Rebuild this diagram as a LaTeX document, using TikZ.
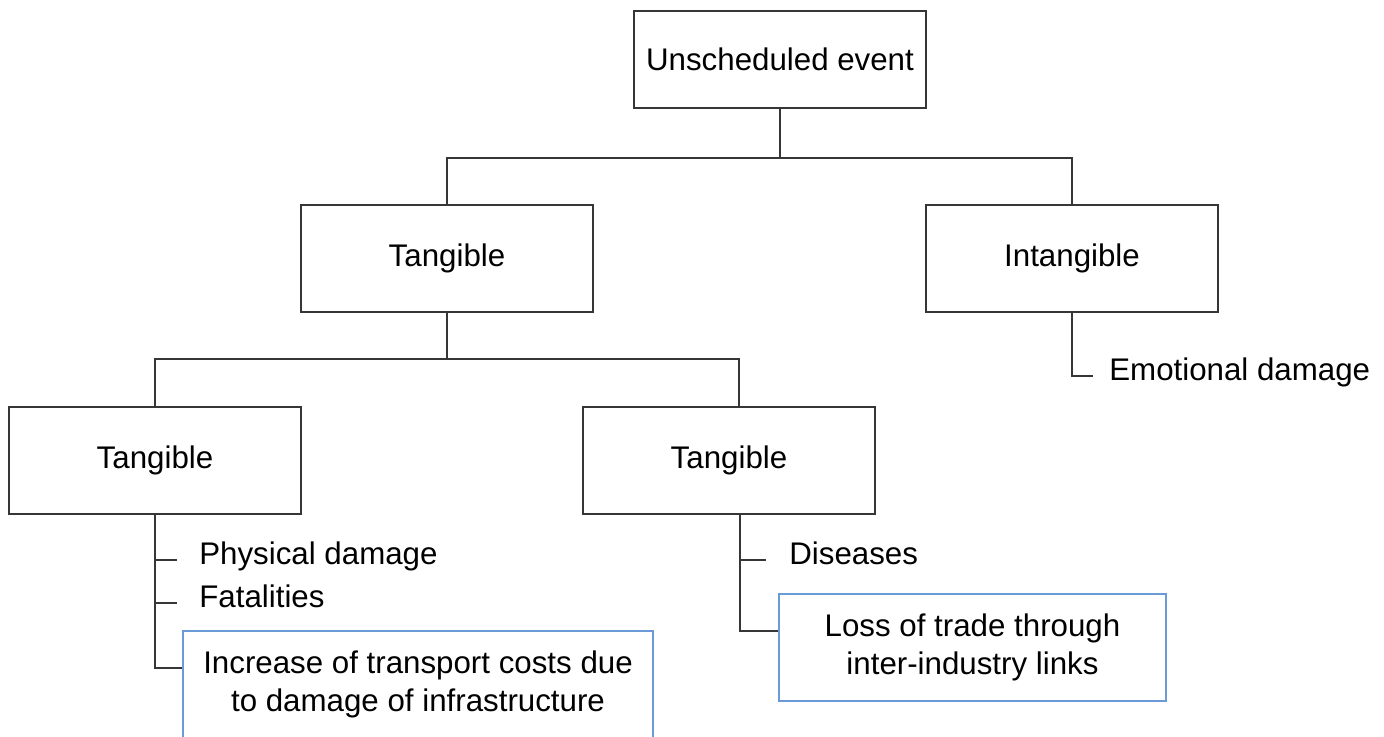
\documentclass[tikz,border=0pt]{standalone}
\usepackage{fontspec}
\setmainfont{Liberation Sans}
\usetikzlibrary{positioning, calc}
\definecolor{linecol}{HTML}{363636}
\definecolor{bluecol}{HTML}{6A9BD8}

\begin{document}
\begin{tikzpicture}[
        %% Grid: coordinates in cm, origin at the top left corner
        box/.style={rectangle, draw=linecol, line width=1.1pt, fill=white, minimum width=5.84cm, minimum height=2.14cm, align=center, font=\fontsize{17.8}{21.6}\selectfont},
        topbox/.style={box, minimum height=1.94cm},
        bluebox/.style={box, draw=bluecol, minimum height=2.14cm},
        line/.style={color=linecol, line width=1.1pt},
        item/.style={anchor=west, inner sep=0pt, text height=0.72em, text depth=0.21em, font=\fontsize{17.8}{21.6}\selectfont}
    ]
    \useasboundingbox (0,0) rectangle (27.68,-14.72);

    %% --- Root (row y=-1.19) ---
    \node[topbox] (event) at (15.60, -1.19) {Unscheduled event};

    %% --- Second level (row y=-5.17) ---
    \node[box] (tang)   at (8.94,  -5.17) {Tangible};
    \node[box] (intang) at (21.44, -5.17) {Intangible};

    %% --- Third level (row y=-9.21) ---
    \node[box] (tangA) at (3.10,  -9.21) {Tangible};
    \node[box] (tangB) at (14.58, -9.21) {Tangible};

    %% --- Leaf items ---
    \node[item] (phys)  at (3.98,  -11.20) {Physical damage};
    \node[item] (fatal) at (3.98,  -12.06) {Fatalities};
    \node[item] (dis)   at (15.78, -11.20) {Diseases};
    \node[item] (emo)   at (22.18, -7.52)  {Emotional damage};
    \node[bluebox, minimum width=9.4cm]  (costs) at (8.36,  -13.69) {Increase of transport costs due\\to damage of infrastructure};
    \node[bluebox, minimum width=7.74cm] (trade) at (19.45, -12.95) {Loss of trade through\\inter-industry links};

    %% --- Root to second level ---
    \draw[line] (event.south) -- ++(0, -0.98) -| (tang.north);
    \draw[line] (event.south) -- ++(0, -0.98) -| (intang.north);

    %% --- Tangible to third level ---
    \draw[line] (tang.south) -- ++(0, -0.92) -| (tangA.north);
    \draw[line] (tang.south) -- ++(0, -0.92) -| ([xshift=0.2cm]tangB.north);

    %% --- Left branch: ticks + costs box ---
    \draw[line] (tangA.south) |- ([yshift=0.33cm]costs.west);
    \draw[line, shorten >=0.44cm] (tangA.south |- phys.west) -- (phys.west);
    \draw[line, shorten >=0.44cm] (tangA.south |- fatal.west) -- (fatal.west);

    %% --- Right branch: tick + trade box ---
    \draw[line] ([xshift=0.22cm]tangB.south) |- ([yshift=0.33cm]trade.west);
    \draw[line, shorten >=0.46cm] ([xshift=0.22cm]tangB.south |- dis.west) -- (dis.west);

    %% --- Intangible ---
    \draw[line, shorten >=0.32cm] (intang.south) |- (emo.west);
\end{tikzpicture}
\end{document}
